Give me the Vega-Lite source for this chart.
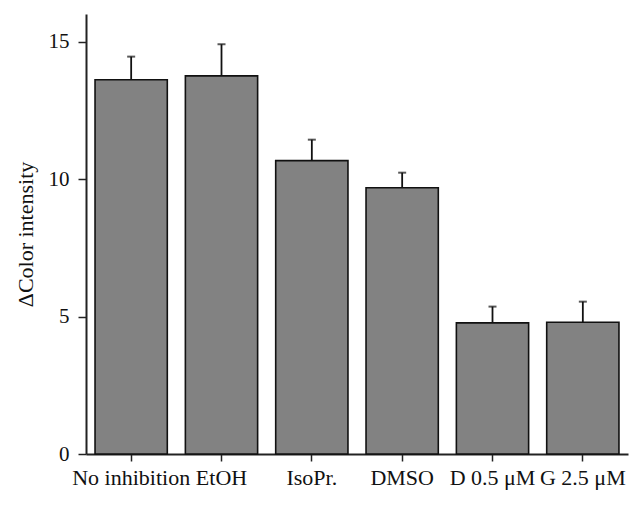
{
  "$schema": "https://vega.github.io/schema/vega-lite/v6.json",
  "width": 542,
  "height": 440,
  "autosize": {"type": "none"},
  "padding": {"left": 86, "top": 14, "right": 14, "bottom": 51},
  "background": "white",
  "config": {
    "view": {"stroke": null},
    "font": "Liberation Serif"
  },
  "data": {
    "values": [
      {"group": "No inhibition", "value": 13.61, "upper": 14.45},
      {"group": "EtOH", "value": 13.75, "upper": 14.9},
      {"group": "IsoPr.", "value": 10.67, "upper": 11.43},
      {"group": "DMSO", "value": 9.68, "upper": 10.23},
      {"group": "D 0.5 μM", "value": 4.77, "upper": 5.36},
      {"group": "G 2.5 μM", "value": 4.79, "upper": 5.54}
    ]
  },
  "encoding": {
    "x": {
      "field": "group",
      "type": "nominal",
      "sort": null,
      "scale": {"paddingInner": 0.2, "paddingOuter": 0.1},
      "axis": {
        "title": null,
        "labelAngle": 0,
        "labelFont": "Liberation Serif",
        "labelFontSize": 22,
        "labelColor": "#111",
        "labelPadding": 6,
        "tickSize": 7,
        "tickWidth": 1.5,
        "tickColor": "#222",
        "domainColor": "#222",
        "domainWidth": 2,
        "labelOverlap": false
      }
    }
  },
  "layer": [
    {
      "mark": {"type": "rule", "color": "#111", "strokeWidth": 1.8},
      "encoding": {
        "y": {"field": "value", "type": "quantitative"},
        "y2": {"field": "upper"}
      }
    },
    {
      "mark": {"type": "tick", "color": "#111", "size": 8, "thickness": 2, "orient": "horizontal"},
      "encoding": {
        "y": {"field": "upper", "type": "quantitative"}
      }
    },
    {
      "mark": {"type": "bar", "fill": "#828282", "stroke": "#111", "strokeWidth": 1.6},
      "encoding": {
        "y": {
          "field": "value",
          "type": "quantitative",
          "scale": {"domain": [0, 16], "nice": false},
          "axis": {
            "title": "ΔColor intensity",
            "titleFont": "Liberation Serif",
            "titleFontSize": 22,
            "titleFontWeight": "normal",
            "titleColor": "#111",
            "titlePadding": 11,
            "values": [0, 5, 10, 15],
            "labelFont": "Liberation Serif",
            "labelFontSize": 21,
            "labelColor": "#111",
            "labelPadding": 9,
            "tickSize": 8,
            "tickWidth": 1.5,
            "tickColor": "#222",
            "domainColor": "#222",
            "domainWidth": 2,
            "grid": false
          }
        }
      }
    }
  ]
}
